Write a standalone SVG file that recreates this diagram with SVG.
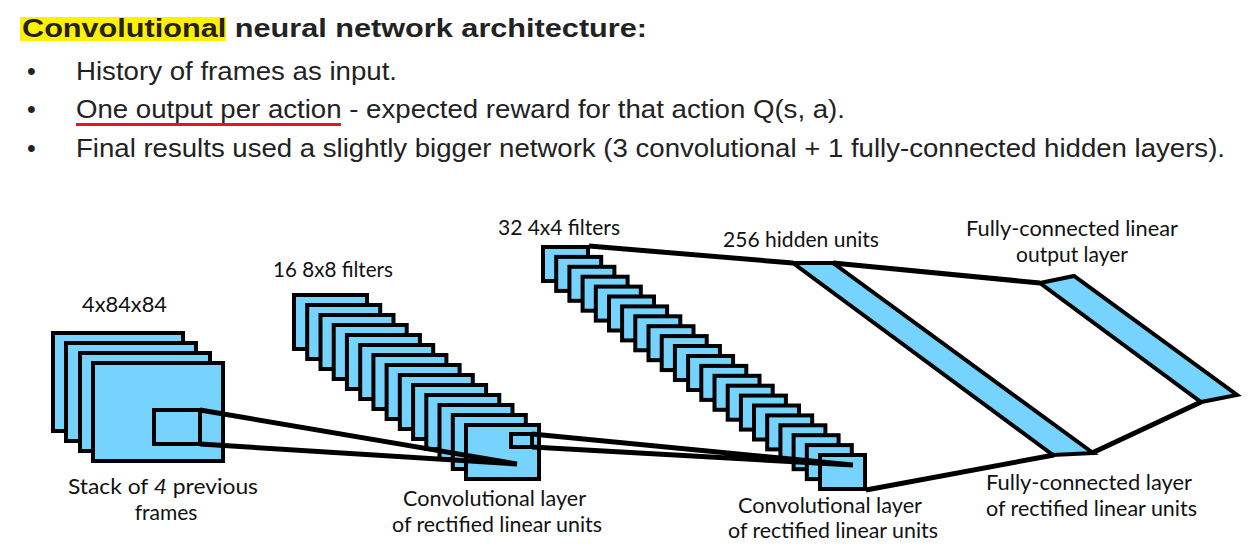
<svg xmlns="http://www.w3.org/2000/svg" width="1250" height="559" viewBox="0 0 1250 559">
<defs>
<style>
.t{font-family:"Liberation Sans",Arial,sans-serif;fill:#222;}
.h{font-size:26px;font-weight:bold;}
.b{font-size:25px;}
.l{font-family:Lato,"Open Sans",sans-serif;font-size:21px;fill:#111;}
.f{fill:#76D3FE;stroke:#000;stroke-width:4;}
.s{fill:none;stroke:#000;stroke-width:4;}
.c{fill:none;stroke:#000;stroke-width:5;stroke-linecap:butt;}
</style>
<rect id="r16" width="73" height="54" class="f"/>
<rect id="r32" width="45" height="34" class="f"/>
</defs>
<rect width="1250" height="559" fill="#fff"/>
<g id="header">
<rect x="20" y="17" width="206" height="24" fill="#FFF100"/>
<text class="t h" x="22" y="37" textLength="625" lengthAdjust="spacingAndGlyphs">Convolutional neural network architecture:</text>
<text class="t b" x="27" y="80">•</text>
<text class="t b" x="76" y="80" textLength="321" lengthAdjust="spacingAndGlyphs">History of frames as input.</text>
<text class="t b" x="27" y="118">•</text>
<text class="t b" x="76" y="118" textLength="769" lengthAdjust="spacingAndGlyphs">One output per action - expected reward for that action Q(s, a).</text>
<line x1="76" y1="124.5" x2="341" y2="124.5" stroke="#E8141E" stroke-width="3"/>
<text class="t b" x="27" y="157">•</text>
<text class="t b" x="76" y="157" textLength="1149" lengthAdjust="spacingAndGlyphs">Final results used a slightly bigger network (3 convolutional + 1 fully-connected hidden layers).</text>
</g>
<g id="input">
<rect class="f" x="53" y="333" width="130" height="98"/>
<rect class="f" x="66" y="343" width="130" height="98"/>
<rect class="f" x="80" y="353" width="130" height="98"/>
<rect class="f" x="93" y="363" width="130" height="98"/>
<rect class="s" x="154" y="410" width="46" height="34"/>
<text class="l" x="82" y="312" textLength="85" lengthAdjust="spacingAndGlyphs">4x84x84</text>
<text class="l" x="68" y="494" textLength="190" lengthAdjust="spacingAndGlyphs">Stack of <tspan font-style="italic">4</tspan> previous</text>
<text class="l" x="166" y="520" text-anchor="middle">frames</text>
</g>
<g id="conv1">
<use href="#r16" x="294" y="295"/>
<use href="#r16" x="307.2" y="305"/>
<use href="#r16" x="320.5" y="315"/>
<use href="#r16" x="333.7" y="325"/>
<use href="#r16" x="346.9" y="335"/>
<use href="#r16" x="360.2" y="345"/>
<use href="#r16" x="373.4" y="355"/>
<use href="#r16" x="386.6" y="365"/>
<use href="#r16" x="399.8" y="375"/>
<use href="#r16" x="413.1" y="385"/>
<use href="#r16" x="426.3" y="395"/>
<use href="#r16" x="439.5" y="405"/>
<use href="#r16" x="452.8" y="415"/>
<use href="#r16" x="466" y="425"/>
<rect class="s" x="511" y="434" width="21" height="13"/>
<text class="l" x="273" y="277" textLength="120" lengthAdjust="spacingAndGlyphs">16 8x8 filters</text>
<text class="l" x="403" y="506" textLength="183" lengthAdjust="spacingAndGlyphs">Convolutional layer</text>
<text class="l" x="392" y="532" textLength="210" lengthAdjust="spacingAndGlyphs">of rectified linear units</text>
</g>
<g id="conv2">
<use href="#r32" x="543" y="247"/>
<use href="#r32" x="556.2" y="256.9"/>
<use href="#r32" x="569.4" y="266.8"/>
<use href="#r32" x="582.6" y="276.7"/>
<use href="#r32" x="595.8" y="286.6"/>
<use href="#r32" x="609" y="296.5"/>
<use href="#r32" x="622.1" y="306.4"/>
<use href="#r32" x="635.3" y="316.3"/>
<use href="#r32" x="648.5" y="326.2"/>
<use href="#r32" x="661.7" y="336.1"/>
<use href="#r32" x="674.9" y="346"/>
<use href="#r32" x="688.1" y="356"/>
<use href="#r32" x="701.3" y="365.9"/>
<use href="#r32" x="714.5" y="375.8"/>
<use href="#r32" x="727.7" y="385.7"/>
<use href="#r32" x="740.9" y="395.6"/>
<use href="#r32" x="754" y="405.5"/>
<use href="#r32" x="767.2" y="415.4"/>
<use href="#r32" x="780.4" y="425.3"/>
<use href="#r32" x="793.6" y="435.2"/>
<use href="#r32" x="806.8" y="445.1"/>
<use href="#r32" x="820" y="455"/>
<text class="l" x="498" y="235" textLength="122" lengthAdjust="spacingAndGlyphs">32 4x4 filters</text>
<text class="l" x="738" y="513" textLength="184" lengthAdjust="spacingAndGlyphs">Convolutional layer</text>
<text class="l" x="728" y="538" textLength="210" lengthAdjust="spacingAndGlyphs">of rectified linear units</text>
</g>
<g id="hidden">
<polygon class="f" points="793,263 833,263 1093,453 1053,455"/>
<text class="l" x="723" y="247" textLength="156" lengthAdjust="spacingAndGlyphs">256 hidden units</text>
<text class="l" x="986" y="490" textLength="206" lengthAdjust="spacingAndGlyphs">Fully-connected layer</text>
<text class="l" x="986" y="516" textLength="211" lengthAdjust="spacingAndGlyphs">of rectified linear units</text>
</g>
<g id="output">
<polygon class="f" points="1040,283 1074,276 1237,395 1201,402"/>
<text class="l" x="966" y="236" textLength="212" lengthAdjust="spacingAndGlyphs">Fully-connected linear</text>
<text class="l" x="1072" y="262" text-anchor="middle">output layer</text>
</g>
<g id="connectors">
<polyline class="c" points="200,410 517,464 200,444"/>
<polyline class="c" points="532,434 853,465 532,447"/>
<line class="c" x1="589" y1="246" x2="793" y2="263"/>
<line class="c" x1="833" y1="263" x2="1040" y2="283"/>
<line class="c" x1="866" y1="490" x2="1054" y2="455"/>
<line class="c" x1="1092" y1="453" x2="1201" y2="402"/>
</g>
</svg>
